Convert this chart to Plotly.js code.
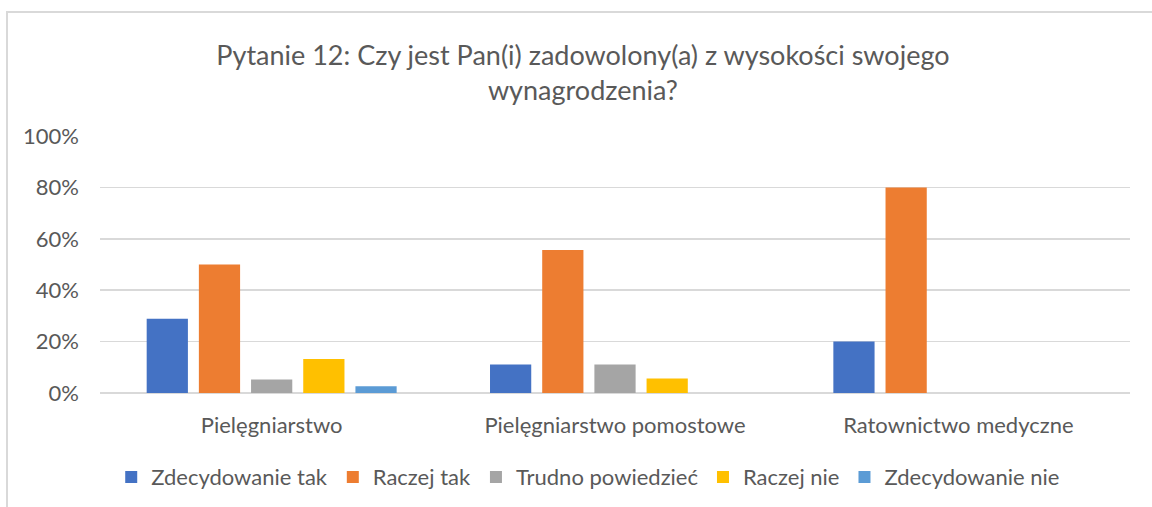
<!DOCTYPE html>
<html>
<head>
<meta charset="utf-8">
<script src="https://cdn.plot.ly/plotly-3.0.1.min.js"></script>
<style>
  html, body { margin: 0; padding: 0; background: #fff; }
  #wrap { position: relative; width: 1152px; height: 507px; overflow: hidden; }
  #chart { width: 1152px; height: 507px; }
  #frame { position: absolute; left: 6px; top: 11px; width: 1200px; height: 600px;
           border-top: 2px solid #d9d9d9; border-left: 2px solid #d9d9d9; pointer-events: none; }
</style>
</head>
<body>
<div id="wrap">
  <div id="chart"></div>
  <div id="frame"></div>
</div>
<script>
const categories = ["Pielęgniarstwo", "Pielęgniarstwo pomostowe", "Ratownictwo medyczne"];
const seriesNames = ["Zdecydowanie tak", "Raczej tak", "Trudno powiedzieć", "Raczej nie", "Zdecydowanie nie"];
const zdecydowanieTak = [0.289, 0.111, 0.20];
const raczejTak = [0.50, 0.556, 0.80];
const trudnoPowiedziec = [0.053, 0.111, 0];
const raczejNie = [0.132, 0.056, 0];
const zdecydowanieNie = [0.026, 0, 0];
const yTicks = [0, 0.2, 0.4, 0.6, 0.8, 1.0];
const yTickLabels = ["0%", "20%", "40%", "60%", "80%", "100%"];

const values = [zdecydowanieTak, raczejTak, trudnoPowiedziec, raczejNie, zdecydowanieNie];
const colors = ["#4472c4", "#ed7d31", "#a5a5a5", "#ffc000", "#5b9bd5"];

const font = "Lato, 'Open Sans', sans-serif";

const traces = values.map((v, i) => ({
  type: "bar",
  name: seriesNames[i],
  x: categories,
  y: v,
  marker: { color: colors[i] },
  hoverinfo: "x+y+name"
}));

const layout = {
  width: 1152,
  height: 507,
  margin: { l: 100, r: 22, t: 136, b: 113.5, autoexpand: false },
  paper_bgcolor: "#ffffff",
  plot_bgcolor: "#ffffff",
  font: { family: font, color: "#595959", size: 22 },
  title: {
    text: "Pytanie 12: Czy jest Pan(i) zadowolony(a) z wysokości swojego<br>wynagrodzenia?",
    font: { family: font, size: 27, color: "#595959" },
    x: 0.506, xanchor: "center",
    y: 0.872, yanchor: "top", yref: "container"
  },
  barmode: "group",
  bargap: 0.24,
  bargroupgap: 0.21,
  xaxis: {
    type: "category",
    showgrid: false,
    showline: false,
    zeroline: false,
    ticks: "",
    tickfont: { size: 22, color: "#595959", family: font },
    ticklabelstandoff: 17
  },
  yaxis: {
    range: [0, 1.0],
    tickvals: yTicks,
    ticktext: yTickLabels,
    showgrid: true,
    gridcolor: "#d9d9d9",
    gridwidth: 1.5,
    zeroline: true,
    zerolinecolor: "#d9d9d9",
    zerolinewidth: 1.5,
    showline: false,
    ticks: "",
    tickfont: { size: 22, color: "#595959", family: font },
    ticklabelstandoff: 20
  },
  legend: {
    orientation: "h",
    x: 0.474, xanchor: "center",
    yref: "container",
    y: 0.059, yanchor: "middle",
    font: { size: 22, color: "#595959", family: font },
    itemwidth: 20,
    traceorder: "normal"
  },
  showlegend: true
};

Plotly.newPlot("chart", traces, layout, { displayModeBar: false, staticPlot: true });
</script>
</body>
</html>
